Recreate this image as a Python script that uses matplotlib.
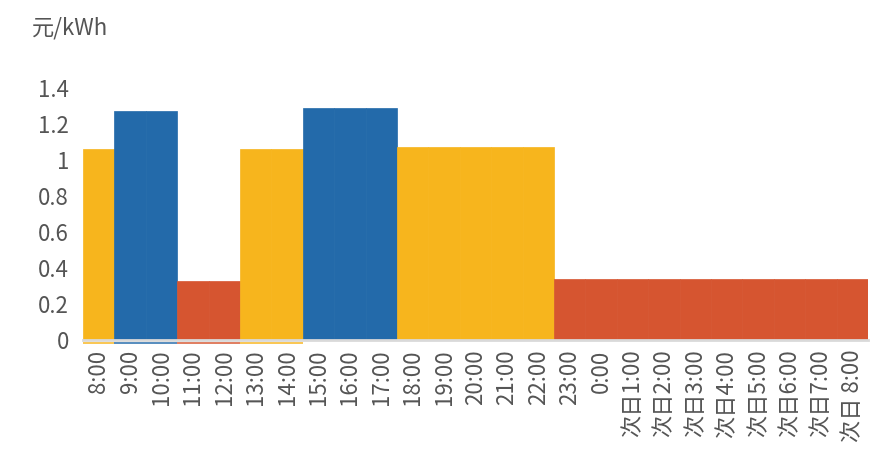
import matplotlib
matplotlib.use("Agg")
import matplotlib.pyplot as plt

plt.rcParams['font.family'] = ['Noto Sans CJK SC', 'DejaVu Sans']

# 时段标签
hours = ['8:00', '9:00', '10:00', '11:00', '12:00', '13:00', '14:00',
         '15:00', '16:00', '17:00', '18:00', '19:00', '20:00', '21:00',
         '22:00', '23:00', '0:00', '次日1:00', '次日2:00', '次日3:00',
         '次日4:00', '次日5:00', '次日6:00', '次日7:00', '次日 8:00']
# 电价 元/kWh
price = [1.06, 1.27, 1.27, 0.33, 0.33, 1.06, 1.06,
         1.29, 1.29, 1.29, 1.07, 1.07, 1.07, 1.07,
         1.07, 0.34, 0.34, 0.34, 0.34, 0.34,
         0.34, 0.34, 0.34, 0.34, 0.34]
# 时段类型: 平/峰/谷
period = ['平', '峰', '峰', '谷', '谷', '平', '平',
          '峰', '峰', '峰', '平', '平', '平', '平',
          '平', '谷', '谷', '谷', '谷', '谷',
          '谷', '谷', '谷', '谷', '谷']

colors = {'平': '#F7B51D', '峰': '#236AAA', '谷': '#D65530'}
bar_c = [colors[p] for p in period]
txt = '#555555'

fig = plt.figure(figsize=(8.94, 4.55), dpi=100)
ax = fig.add_axes([83 / 894, 115 / 455, 785 / 894, 252 / 455])

x = list(range(len(hours)))
ax.bar(x, price, width=1.0, color=bar_c, edgecolor=bar_c,
       linewidth=0.5, zorder=2)

# 底部细色条(前7个时段)
ax.bar(x[:7], [-0.008] * 7, bottom=-0.012, width=1.0, color=bar_c[:7],
       alpha=0.75, linewidth=0, clip_on=False, zorder=1)
ax.axhline(0, color='#d9d9d9', linewidth=2, zorder=3, clip_on=False)

ax.set_xlim(-0.5, len(hours) - 0.5)
ax.set_ylim(0, 1.4)
yt = [0, 0.2, 0.4, 0.6, 0.8, 1.0, 1.2, 1.4]
ax.set_yticks(yt)
ax.set_yticklabels(['0', '0.2', '0.4', '0.6', '0.8', '1', '1.2', '1.4'])
ax.set_xticks(x)
ax.set_xticklabels(hours, rotation=90)
ax.tick_params(axis='y', length=0, pad=10, labelsize=16, labelcolor=txt)
ax.tick_params(axis='x', length=0, pad=7, labelsize=16, labelcolor=txt)
for s in ax.spines.values():
    s.set_visible(False)

fig.text(32 / 894, 1 - 28 / 455, '元/kWh', fontsize=16, color=txt,
         va='center', ha='left')

fig.savefig('out.png', dpi=100)
